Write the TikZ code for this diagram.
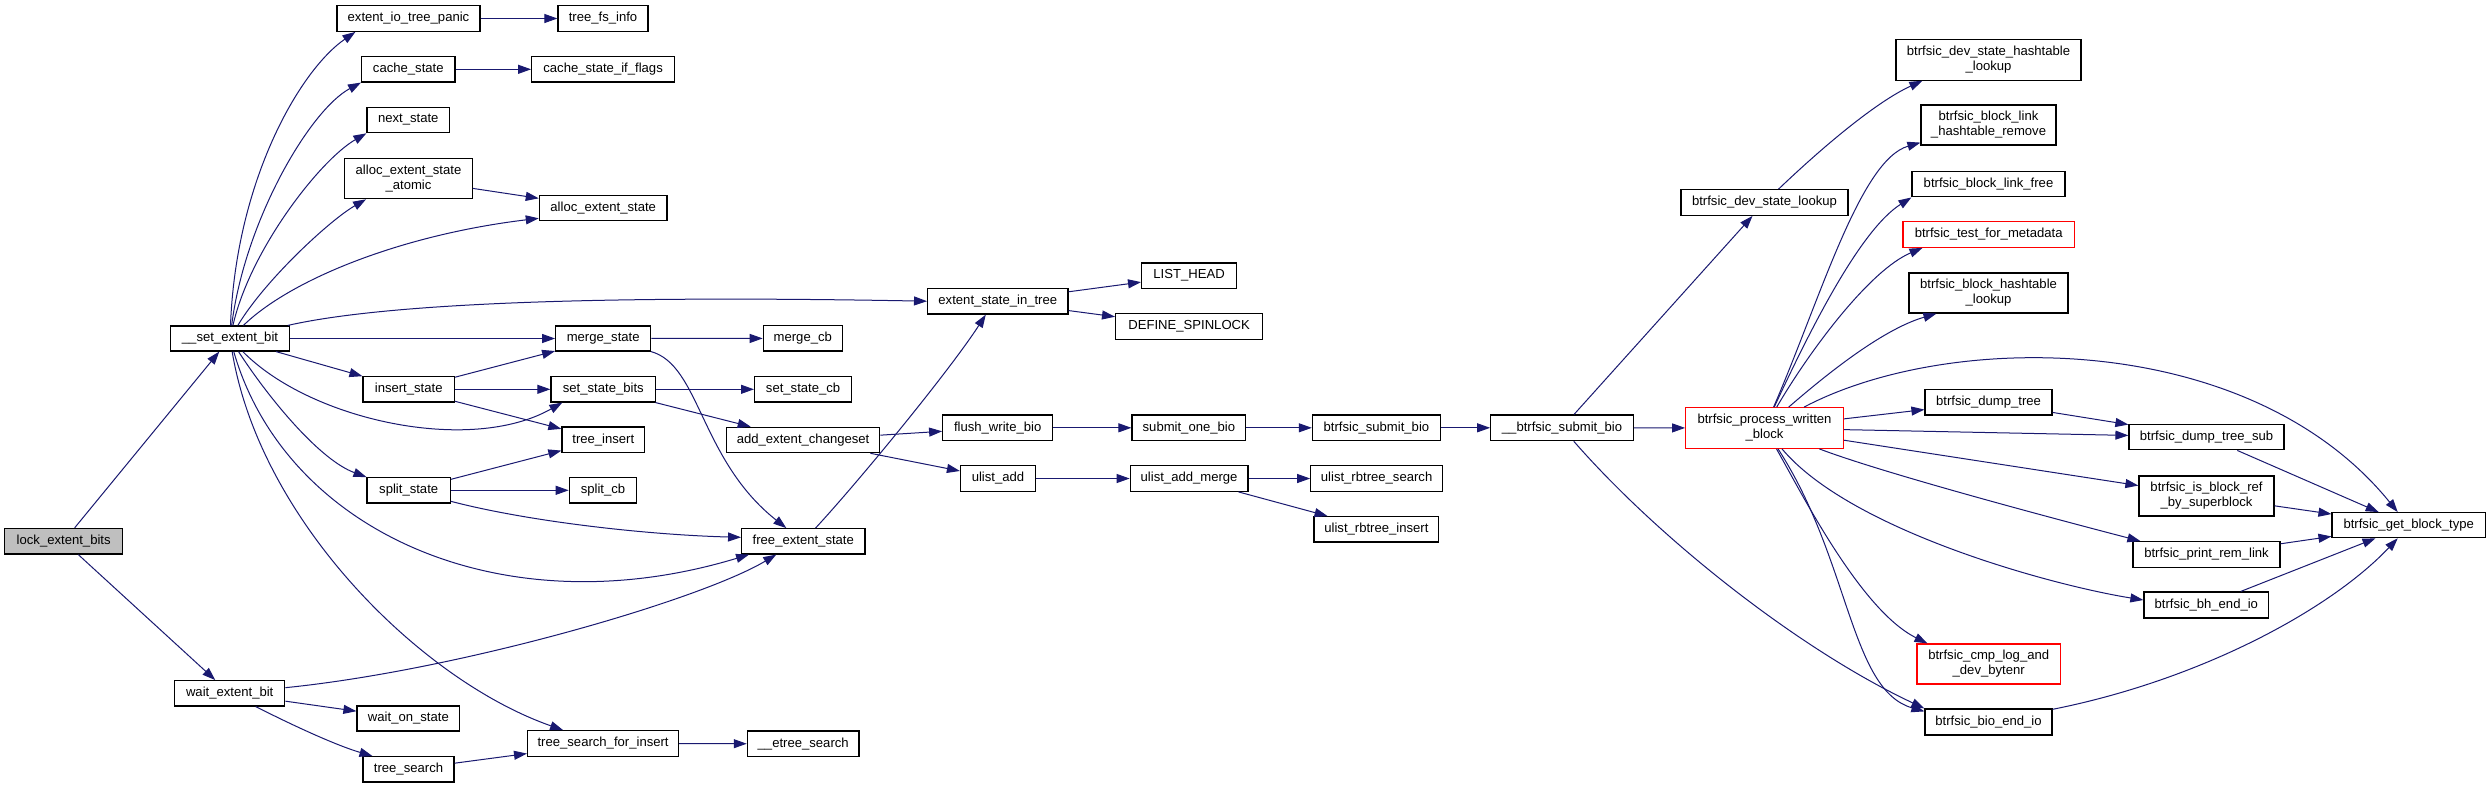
\documentclass[tikz,border=0pt]{standalone}
\usepackage{fontspec}
\setmainfont{Liberation Sans}
\usetikzlibrary{arrows.meta}
\definecolor{edgec}{HTML}{191970}
\definecolor{rootfill}{HTML}{BFBFBF}
\begin{document}
\begin{tikzpicture}[x=1pt,y=-1pt,
  box/.style={draw=black, line width=1.2pt, fill=white, inner sep=1pt, align=center,
    font=\fontsize{13.1}{15}\selectfont},
  rbox/.style={box, draw=red},
  root/.style={box, fill=rootfill},
  sz/.style 2 args={minimum width=#1pt, minimum height=#2pt},
  edge/.style={draw=edgec, line width=1pt, -{Triangle[length=13pt,width=9pt]}}]
\fill[white] (0,0) rectangle (2491,788);
\useasboundingbox (0,0) rectangle (2491,788);
% nodes
\node[root, sz={118.3}{25.7}] (lock) at (63.7,541.2) {lock\_extent\_bits};
\node[box, sz={118.6}{25}] (seb) at (230,338.5) {\_\_set\_extent\_bit};
\node[box, sz={110.3}{25.3}] (web) at (229.7,693.3) {wait\_extent\_bit};
\node[box, sz={143}{25.6}] (eitp) at (408.5,18.5) {extent\_io\_tree\_panic};
\node[box, sz={90}{25.6}] (tfi) at (603,18.5) {tree\_fs\_info};
\node[box, sz={93.4}{25.3}] (cs) at (408.3,69.3) {cache\_state};
\node[box, sz={142.8}{25.3}] (csif) at (603.1,69.3) {cache\_state\_if\_flags};
\node[box, sz={82.6}{25.4}] (ns) at (408.3,120) {next\_state};
\node[box, sz={127.7}{40}] (aesa) at (408.5,178.7) {alloc\_extent\_state\\\_atomic};
\node[box, sz={127.7}{25.4}] (aes) at (603.2,208) {alloc\_extent\_state};
\node[box, sz={95}{25}] (ms) at (603.2,338.5) {merge\_state};
\node[box, sz={91.3}{25.3}] (is) at (408.7,389.3) {insert\_state};
\node[box, sz={104.7}{25.3}] (ssb) at (603.3,389.3) {set\_state\_bits};
\node[box, sz={82.7}{25.3}] (ti) at (603.3,439.7) {tree\_insert};
\node[box, sz={83.3}{25.3}] (sps) at (408.7,490.3) {split\_state};
\node[box, sz={67.4}{25.3}] (scb) at (603,490.3) {split\_cb};
\node[box, sz={102.8}{25}] (wos) at (408.4,718.5) {wait\_on\_state};
\node[box, sz={91}{25.3}] (ts) at (408.5,769.3) {tree\_search};
\node[box, sz={151}{25.6}] (tsfi) at (603.1,743.5) {tree\_search\_for\_insert};
\node[box, sz={111.7}{25.7}] (ets) at (803.2,743.8) {\_\_etree\_search};
\node[box, sz={79}{25.3}] (mcb) at (802.8,338.4) {merge\_cb};
\node[box, sz={97}{25.3}] (sscb) at (803.1,389.3) {set\_state\_cb};
\node[box, sz={153.5}{25.4}] (aec) at (803.1,440) {add\_extent\_changeset};
\node[box, sz={123.3}{25.3}] (fes) at (803.3,541.3) {free\_extent\_state};
\node[box, sz={140.4}{25.7}] (esit) at (997.8,301.2) {extent\_state\_in\_tree};
\node[box, sz={95}{25.3}] (lh) at (1189.1,275.7) {LIST\_HEAD};
\node[box, sz={147}{25.6}] (ds) at (1189.1,326.5) {DEFINE\_SPINLOCK};
\node[box, sz={110}{25.7}] (fwb) at (997.7,427.8) {flush\_write\_bio};
\node[box, sz={75}{25.6}] (ua) at (998,478.5) {ulist\_add};
\node[box, sz={113.8}{25.7}] (sob) at (1188.9,427.8) {submit\_one\_bio};
\node[box, sz={117.7}{25.6}] (uam) at (1189.1,478.5) {ulist\_add\_merge};
\node[box, sz={128}{25.7}] (bsb) at (1376.4,427.8) {btrfsic\_submit\_bio};
\node[box, sz={131.7}{25.6}] (urs) at (1376.6,478.5) {ulist\_rbtree\_search};
\node[box, sz={124.8}{25.3}] (uri) at (1376.4,529.3) {ulist\_rbtree\_insert};
\node[box, sz={142.6}{25.7}] (bbsb) at (1562,427.8) {\_\_btrfsic\_submit\_bio};
\node[box, sz={167}{25.6}] (dsl) at (1764.5,202.5) {btrfsic\_dev\_state\_lookup};
\node[rbox, sz={157.6}{40.6}] (pwb) at (1764.5,428) {btrfsic\_process\_written\\\_block};
\node[box, sz={185}{40.3}] (dshl) at (1988.5,60) {btrfsic\_dev\_state\_hashtable\\\_lookup};
\node[box, sz={135}{40}] (blhr) at (1988.5,125) {btrfsic\_block\_link\\\_hashtable\_remove};
\node[box, sz={153}{25.7}] (blf) at (1988.5,184) {btrfsic\_block\_link\_free};
\node[rbox, sz={171.3}{25.6}] (tfm) at (1988.7,234.5) {btrfsic\_test\_for\_metadata};
\node[box, sz={159}{40}] (bhl) at (1988.5,293) {btrfsic\_block\_hashtable\\\_lookup};
\node[box, sz={127}{25.7}] (dt) at (1988.5,402.2) {btrfsic\_dump\_tree};
\node[rbox, sz={143.3}{40}] (cmp) at (1988.7,664) {btrfsic\_cmp\_log\_and\\\_dev\_bytenr};
\node[box, sz={127}{26}] (bei) at (1988.5,722) {btrfsic\_bio\_end\_io};
\node[box, sz={155}{25.7}] (dts) at (2206.5,437) {btrfsic\_dump\_tree\_sub};
\node[box, sz={135}{40}] (ibr) at (2206.5,496) {btrfsic\_is\_block\_ref\\\_by\_superblock};
\node[box, sz={147}{25.6}] (prl) at (2206.5,554.5) {btrfsic\_print\_rem\_link};
\node[box, sz={124.7}{26}] (bhe) at (2206.3,605) {btrfsic\_bh\_end\_io};
\node[box, sz={153.3}{25}] (gbt) at (2408.7,525.2) {btrfsic\_get\_block\_type};
% edges
\draw[edge] (lock) -- (seb);
\draw[edge] (lock) -- (web);
\draw[edge] (seb) .. controls (236,180) and (300,70) .. ([xshift=19pt]eitp.south west);
\draw[edge] (seb) .. controls (245,220) and (310,110) .. (cs.south west);
\draw[edge] (seb) .. controls (250,250) and (320,160) .. (ns.south west);
\draw[edge] (seb) .. controls (265,280) and (330,220) .. ([xshift=22pt]aesa.south west);
\draw[edge] (seb) .. controls (290,280) and (400,235) .. ([yshift=3pt]aes.south west);
\draw[edge] (seb) .. controls (400,300) and (650,296) .. (esit.west);
\draw[edge] (seb) -- (ms);
\draw[edge] (seb) -- (is);
\draw[edge] (seb) .. controls (310,420) and (470,455) .. ([xshift=12pt]ssb.south west);
\draw[edge] (seb) .. controls (270,400) and (320,460) .. (sps.north west);
\draw[edge] (seb) .. controls (285,530) and (500,630) .. ([xshift=8pt]fes.south west);
\draw[edge] (seb) .. controls (260,520) and (420,680) .. ([xshift=-40pt]tsfi.north);
\draw[edge] (eitp) -- (tfi);
\draw[edge] (cs) -- (csif);
\draw[edge] (aesa) -- (aes);
\draw[edge] (ms) -- (mcb);
\draw[edge] (ms) .. controls (700,365) and (700,460) .. ([xshift=-17pt]fes.north);
\draw[edge] (is) -- (ms);
\draw[edge] (is) -- (ssb);
\draw[edge] (is) -- (ti);
\draw[edge] (ssb) -- (sscb);
\draw[edge] (ssb) -- (aec);
\draw[edge] (sps) -- (ti);
\draw[edge] (sps) -- (scb);
\draw[edge] (sps) .. controls (530,522) and (650,535) .. ([yshift=4pt]fes.west);
\draw[edge] (fes) .. controls (860,480) and (950,370) .. ([xshift=-12pt]esit.south);
\draw[edge] (esit) -- (lh);
\draw[edge] (esit) -- (ds);
\draw[edge] (aec) -- (fwb);
\draw[edge] (aec) -- (ua);
\draw[edge] (fwb) -- (sob);
\draw[edge] (sob) -- (bsb);
\draw[edge] (bsb) -- (bbsb);
\draw[edge] (ua) -- (uam);
\draw[edge] (uam) -- (urs);
\draw[edge] (uam) -- (uri);
\draw[edge] (tsfi) -- (ets);
\draw[edge] (ts) -- (tsfi);
\draw[edge] (web) -- (wos);
\draw[edge] (web) .. controls (290,724) and (335,745) .. ([xshift=-36pt]ts.north);
\draw[edge] (web) .. controls (460,670) and (700,600) .. ([xshift=-27pt]fes.south);
\draw[edge] (bbsb) -- (dsl);
\draw[edge] (bbsb) -- (pwb);
\draw[edge] (bbsb) .. controls (1660,540) and (1800,650) .. (bei.north west);
\draw[edge] (dsl) .. controls (1830,140) and (1880,100) .. ([xshift=27pt]dshl.south west);
\draw[edge] (pwb) .. controls (1820,300) and (1860,160) .. ([yshift=3pt]blhr.south west);
\draw[edge] (pwb) .. controls (1810,330) and (1860,230) .. (blf.south west);
\draw[edge] (pwb) .. controls (1810,350) and (1870,270) .. ([xshift=20pt]tfm.south west);
\draw[edge] (pwb) .. controls (1820,380) and (1880,330) .. ([xshift=28pt]bhl.south west);
\draw[edge] (pwb) .. controls (1950,330) and (2250,330) .. ([xshift=-11pt]gbt.north);
\draw[edge] (pwb) -- (dt);
\draw[edge] (pwb) -- (dts);
\draw[edge] (pwb) -- (ibr);
\draw[edge] (pwb) .. controls (1880,472) and (2040,515) .. ([xshift=8pt]prl.north west);
\draw[edge] (pwb) .. controls (1850,530) and (2050,585) .. ([yshift=5pt]bhe.west);
\draw[edge] (pwb) .. controls (1800,490) and (1860,610) .. ([xshift=11pt]cmp.north west);
\draw[edge] (pwb) .. controls (1850,560) and (1850,690) .. ([yshift=-3pt]bei.north west);
\draw[edge] (dt) -- (dts);
\draw[edge] (dts) -- (gbt);
\draw[edge] (ibr) -- (gbt);
\draw[edge] (prl) -- (gbt);
\draw[edge] (bhe) -- (gbt);
\draw[edge] (bei) .. controls (2200,680) and (2330,610) .. ([xshift=-11pt]gbt.south);
\end{tikzpicture}
\end{document}
